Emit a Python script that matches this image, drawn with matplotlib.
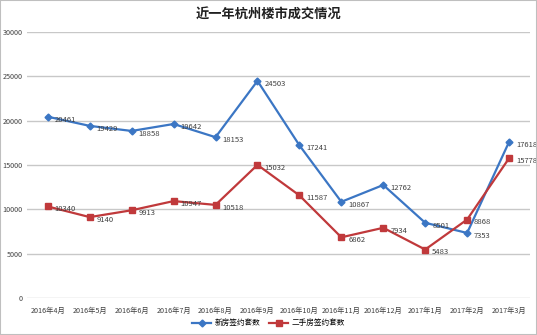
import numpy as np
import matplotlib.pyplot as plt

plt.rcParams['font.family'] = ['Noto Sans CJK SC', 'DejaVu Sans']

months = ['2016年4月', '2016年5月', '2016年6月', '2016年7月', '2016年8月', '2016年9月',
          '2016年10月', '2016年11月', '2016年12月', '2017年1月', '2017年2月', '2017年3月']
new_house = [20461, 19429, 18858, 19642, 18153, 24503, 17241, 10867, 12762, 8501, 7353, 17618]
second_hand = [10340, 9140, 9913, 10947, 10518, 15032, 11587, 6862, 7934, 5483, 8868, 15778]

fig = plt.figure(figsize=(5.37, 3.35), dpi=100)
ax = fig.add_axes([0.050, 0.110, 0.937, 0.794])

x = np.arange(len(months))
blue = '#3b76c4'
red = '#c0393b'
ax.plot(x, new_house, color=blue, linewidth=1.6, marker='D', markersize=3.5, label='新房签约套数', zorder=3)
ax.plot(x, second_hand, color=red, linewidth=1.6, marker='s', markersize=4.5, label='二手房签约套数', zorder=3)

for xi, v in zip(x, new_house):
    ax.annotate(str(v), (xi, v), xytext=(5, -2), textcoords='offset points',
                fontsize=5.5, color='#404040', va='center', ha='left')
for xi, v in zip(x, second_hand):
    ax.annotate(str(v), (xi, v), xytext=(5, -2), textcoords='offset points',
                fontsize=5.5, color='#404040', va='center', ha='left')

ax.set_xlim(-0.5, len(months) - 0.5)
ax.set_ylim(0, 30000)
ax.set_yticks(np.arange(0, 30001, 5000))
ax.set_xticks(x)
ax.set_xticklabels(months)
ax.tick_params(axis='both', length=0, labelsize=5.2, colors='#404040')
ax.tick_params(axis='x', pad=6)
ax.tick_params(axis='y', pad=3)
ax.grid(axis='y', color='#c8c8c8', linewidth=1)
ax.set_axisbelow(True)
for s in ax.spines.values():
    s.set_visible(False)

fig.text(0.5, 0.955, '近一年杭州楼市成交情况', ha='center', va='center',
         fontsize=9.5, fontweight='bold', color='#202020')

fig.legend(loc='center', bbox_to_anchor=(0.5, 0.035), ncol=2, frameon=False,
           fontsize=5.5, handlelength=2.5, columnspacing=1.2, handletextpad=0.4)

border = plt.Rectangle((0, 0), 1, 1, transform=fig.transFigure, fill=False,
                       edgecolor='#bfbfbf', linewidth=1.5)
fig.patches.append(border)

fig.savefig('out.png', dpi=100)
